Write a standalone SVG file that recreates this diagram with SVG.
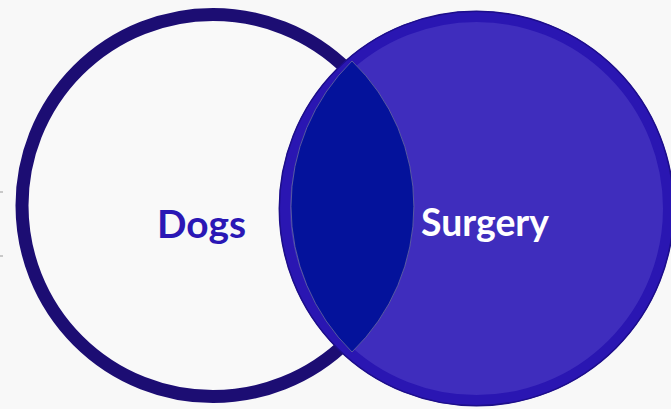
<svg xmlns="http://www.w3.org/2000/svg" width="671" height="409" viewBox="0 0 671 409">
  <style>
    .label { font-family: Lato, "Open Sans", "Liberation Sans", sans-serif; font-weight: 700; font-size: 38px; }
  </style>
  <rect x="0" y="0" width="671" height="409" fill="#f8f8f8"/>
  <g id="edge-marks" stroke="#9a9a9a" stroke-width="1">
    <line x1="0" y1="192" x2="3" y2="192"/>
    <line x1="0" y1="256" x2="3" y2="256"/>
  </g>
  <g id="node-dogs">
    <circle cx="213" cy="205.5" r="191" fill="#f9f9f9" stroke="#1c0d73" stroke-width="13"/>
  </g>
  <g id="node-surgery">
    <circle cx="476.5" cy="208.5" r="192" fill="#3f2dbd" stroke="#2a16b2" stroke-width="11"/>
    <circle cx="476.5" cy="208.5" r="197.2" fill="none" stroke="#1d0e8a" stroke-width="1.5"/>
  </g>
  <g id="node-intersection">
    <path d="M352,61 A204,204 0 0 0 352,352 A202,202 0 0 0 352,61 Z" fill="#04129b" stroke="#6a6aa0" stroke-width="0.8"/>
  </g>
  <g id="connectors"></g>
  <g id="labels">
    <text class="label" x="157" y="237.5" fill="#2a17b5" textLength="89" lengthAdjust="spacingAndGlyphs">Dogs</text>
    <text class="label" x="421" y="236" fill="#ffffff" textLength="128" lengthAdjust="spacingAndGlyphs">Surgery</text>
  </g>
</svg>
